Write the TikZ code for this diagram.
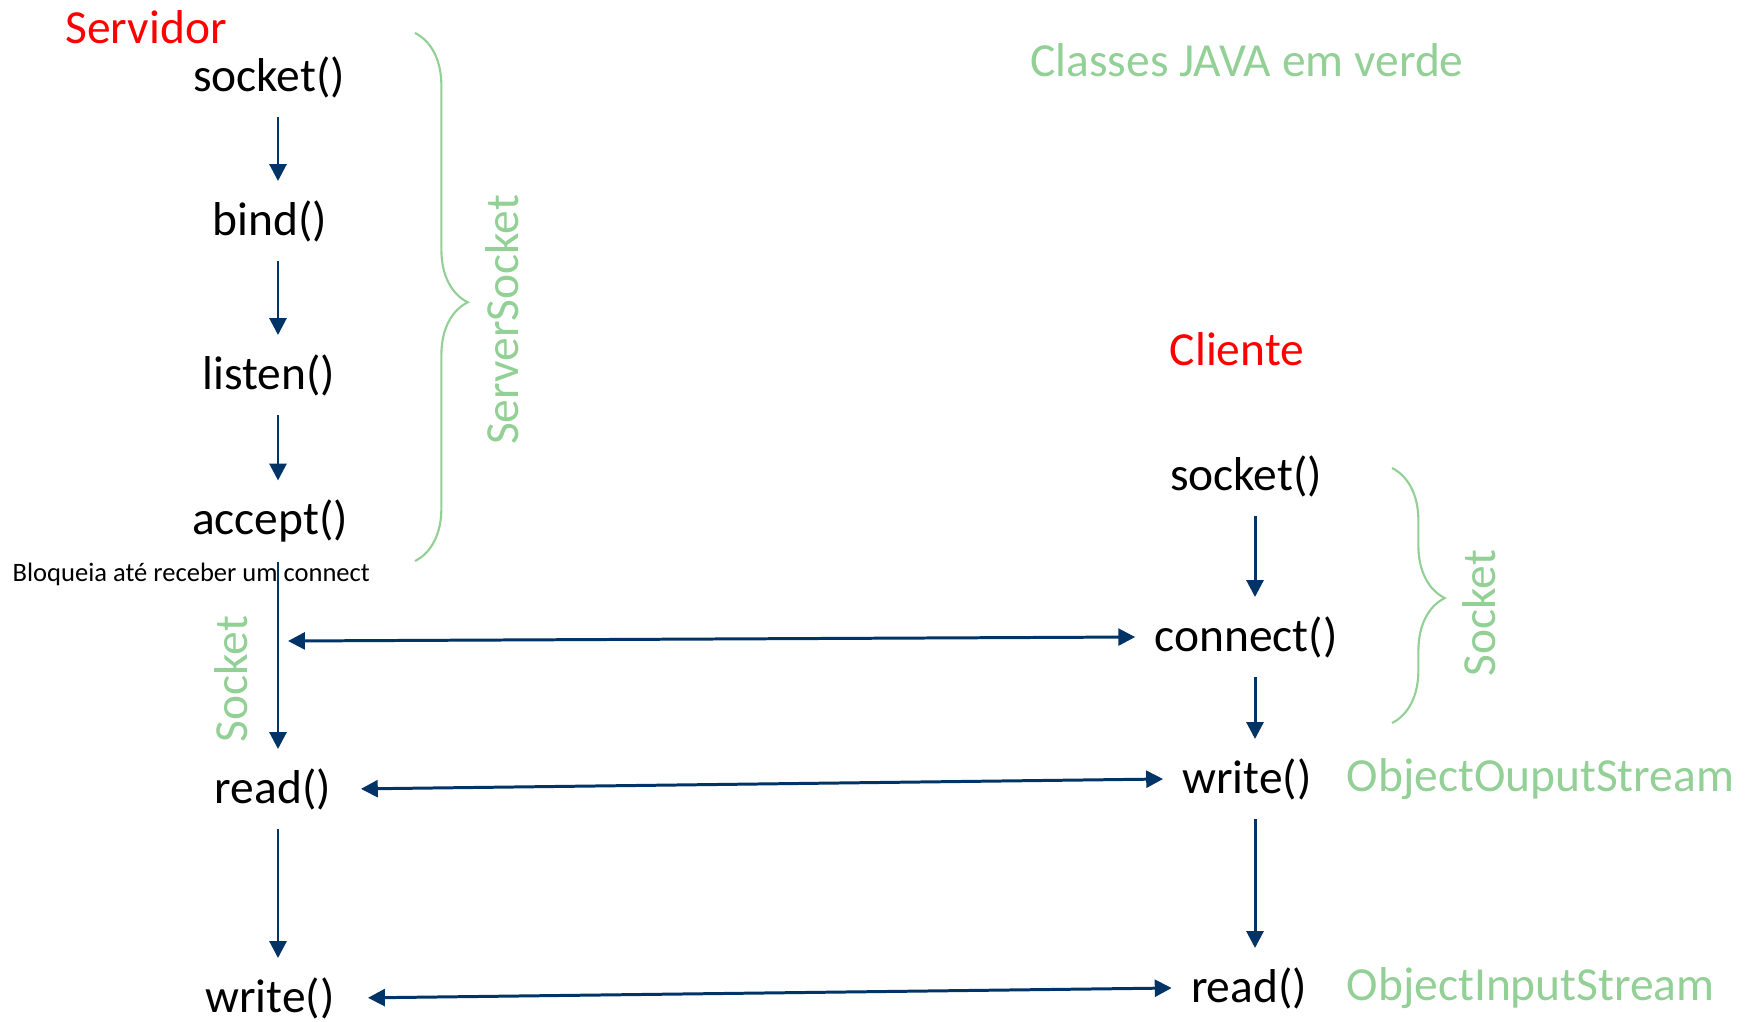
\documentclass[tikz,border=0pt]{standalone}
\usepackage{fontspec}
\setmainfont{Carlito}
\usetikzlibrary{arrows.meta,decorations.pathreplacing,positioning}

\definecolor{flowblue}{RGB}{0,51,102}
\definecolor{javagreen}{RGB}{146,208,150}

\newcommand*{\bigfont}{\fontsize{13.5}{15}\selectfont}
\newcommand*{\tip}{Triangle[width=4.8pt,length=4.8pt]}

\begin{document}
\begin{tikzpicture}
[
	x=0.01cm, y=-0.01cm,
	call/.style={font=\bigfont, inner sep=5.5pt, outer sep=0pt},
	side/.style={font=\bigfont, text=red, inner sep=0pt},
	cls/.style={font=\bigfont, text=javagreen, inner sep=0pt},
	note/.style={font=\fontsize{7.55}{9}\selectfont, inner sep=0pt},
	flow/.style={-{\tip}, flowblue, line width=0.85pt},
	both/.style={{\tip}-{\tip}, flowblue, line width=0.85pt},
	grp/.style={javagreen, line width=0.6pt, decorate, decoration={brace, amplitude=15pt, aspect=0.51}}
]

	\useasboundingbox (0,0) rectangle (1749,1021);

	% columns of the arrows
	\coordinate (sx) at (278,0);
	\coordinate (cx) at (1255,0);

	% titles
	\node[side] (srv) at (146,27) {Servidor};
	\node[side] (cli) at (1237,349) {Cliente};
	\node[cls] (legend) at (1247,60) {Classes JAVA em verde};

	% server calls
	\node[call] (ssocket) at (269,77) {socket()};
	\node[call] (sbind) at (270,221) {bind()};
	\node[call] (slisten) at (269,375) {listen()};
	\node[call] (saccept) at (270,521) {accept()};
	\node[note, anchor=west] (block) at (12,574) {Bloqueia até receber um connect};
	\node[call] (sread) at (273,789) {read()};
	\node[call] (swrite) at (270,998) {write()};

	% client calls
	\node[call] (csocket) at (1246,476) {socket()};
	\node[call] (cconnect) at (1246,637) {connect()};
	\node[call] (cwrite) at (1247,779) {write()};
	\node[call] (cread) at (1249,988) {read()};
	\node[cls, anchor=west] (oos) at (1346,779) {ObjectOuputStream};
	\node[cls, anchor=west] (ois) at (1346,988) {ObjectInputStream};

	% server flow
	\draw[flow] (ssocket.south -| sx) -- (sbind.north -| sx);
	\draw[flow] (sbind.south -| sx) -- (slisten.north -| sx);
	\draw[flow] (slisten.south -| sx) -- (saccept.north -| sx);
	\draw[flow] (saccept.south -| sx) -- (sread.north -| sx);
	\draw[flow] (sread.south -| sx) -- (swrite.north -| sx);

	% client flow
	\draw[flow] (csocket.south -| cx) -- (cconnect.north -| cx);
	\draw[flow] (cconnect.south -| cx) -- (cwrite.north -| cx);
	\draw[flow] (cwrite.south -| cx) -- (cread.north -| cx);

	% exchanges
	\coordinate (hook) at (288,641);
	\draw[both] (hook) -- (cconnect.west);
	\draw[both, shorten <=3pt] (sread.east) -- (cwrite.west);
	\draw[both, shorten <=4pt] (swrite.east) -- (cread.west);

	% java classes
	\draw[grp] (415,33) -- (415,561);
	\node[cls, rotate=90] (srvsock) at (502,320) {ServerSocket};
	\draw[grp] (1392,468) -- (1392,723);
	\node[cls, rotate=90] (clisock) at (1479,613) {Socket};
	\node[cls, rotate=90] (acksock) at (231,679) {Socket};

\end{tikzpicture}
\end{document}
